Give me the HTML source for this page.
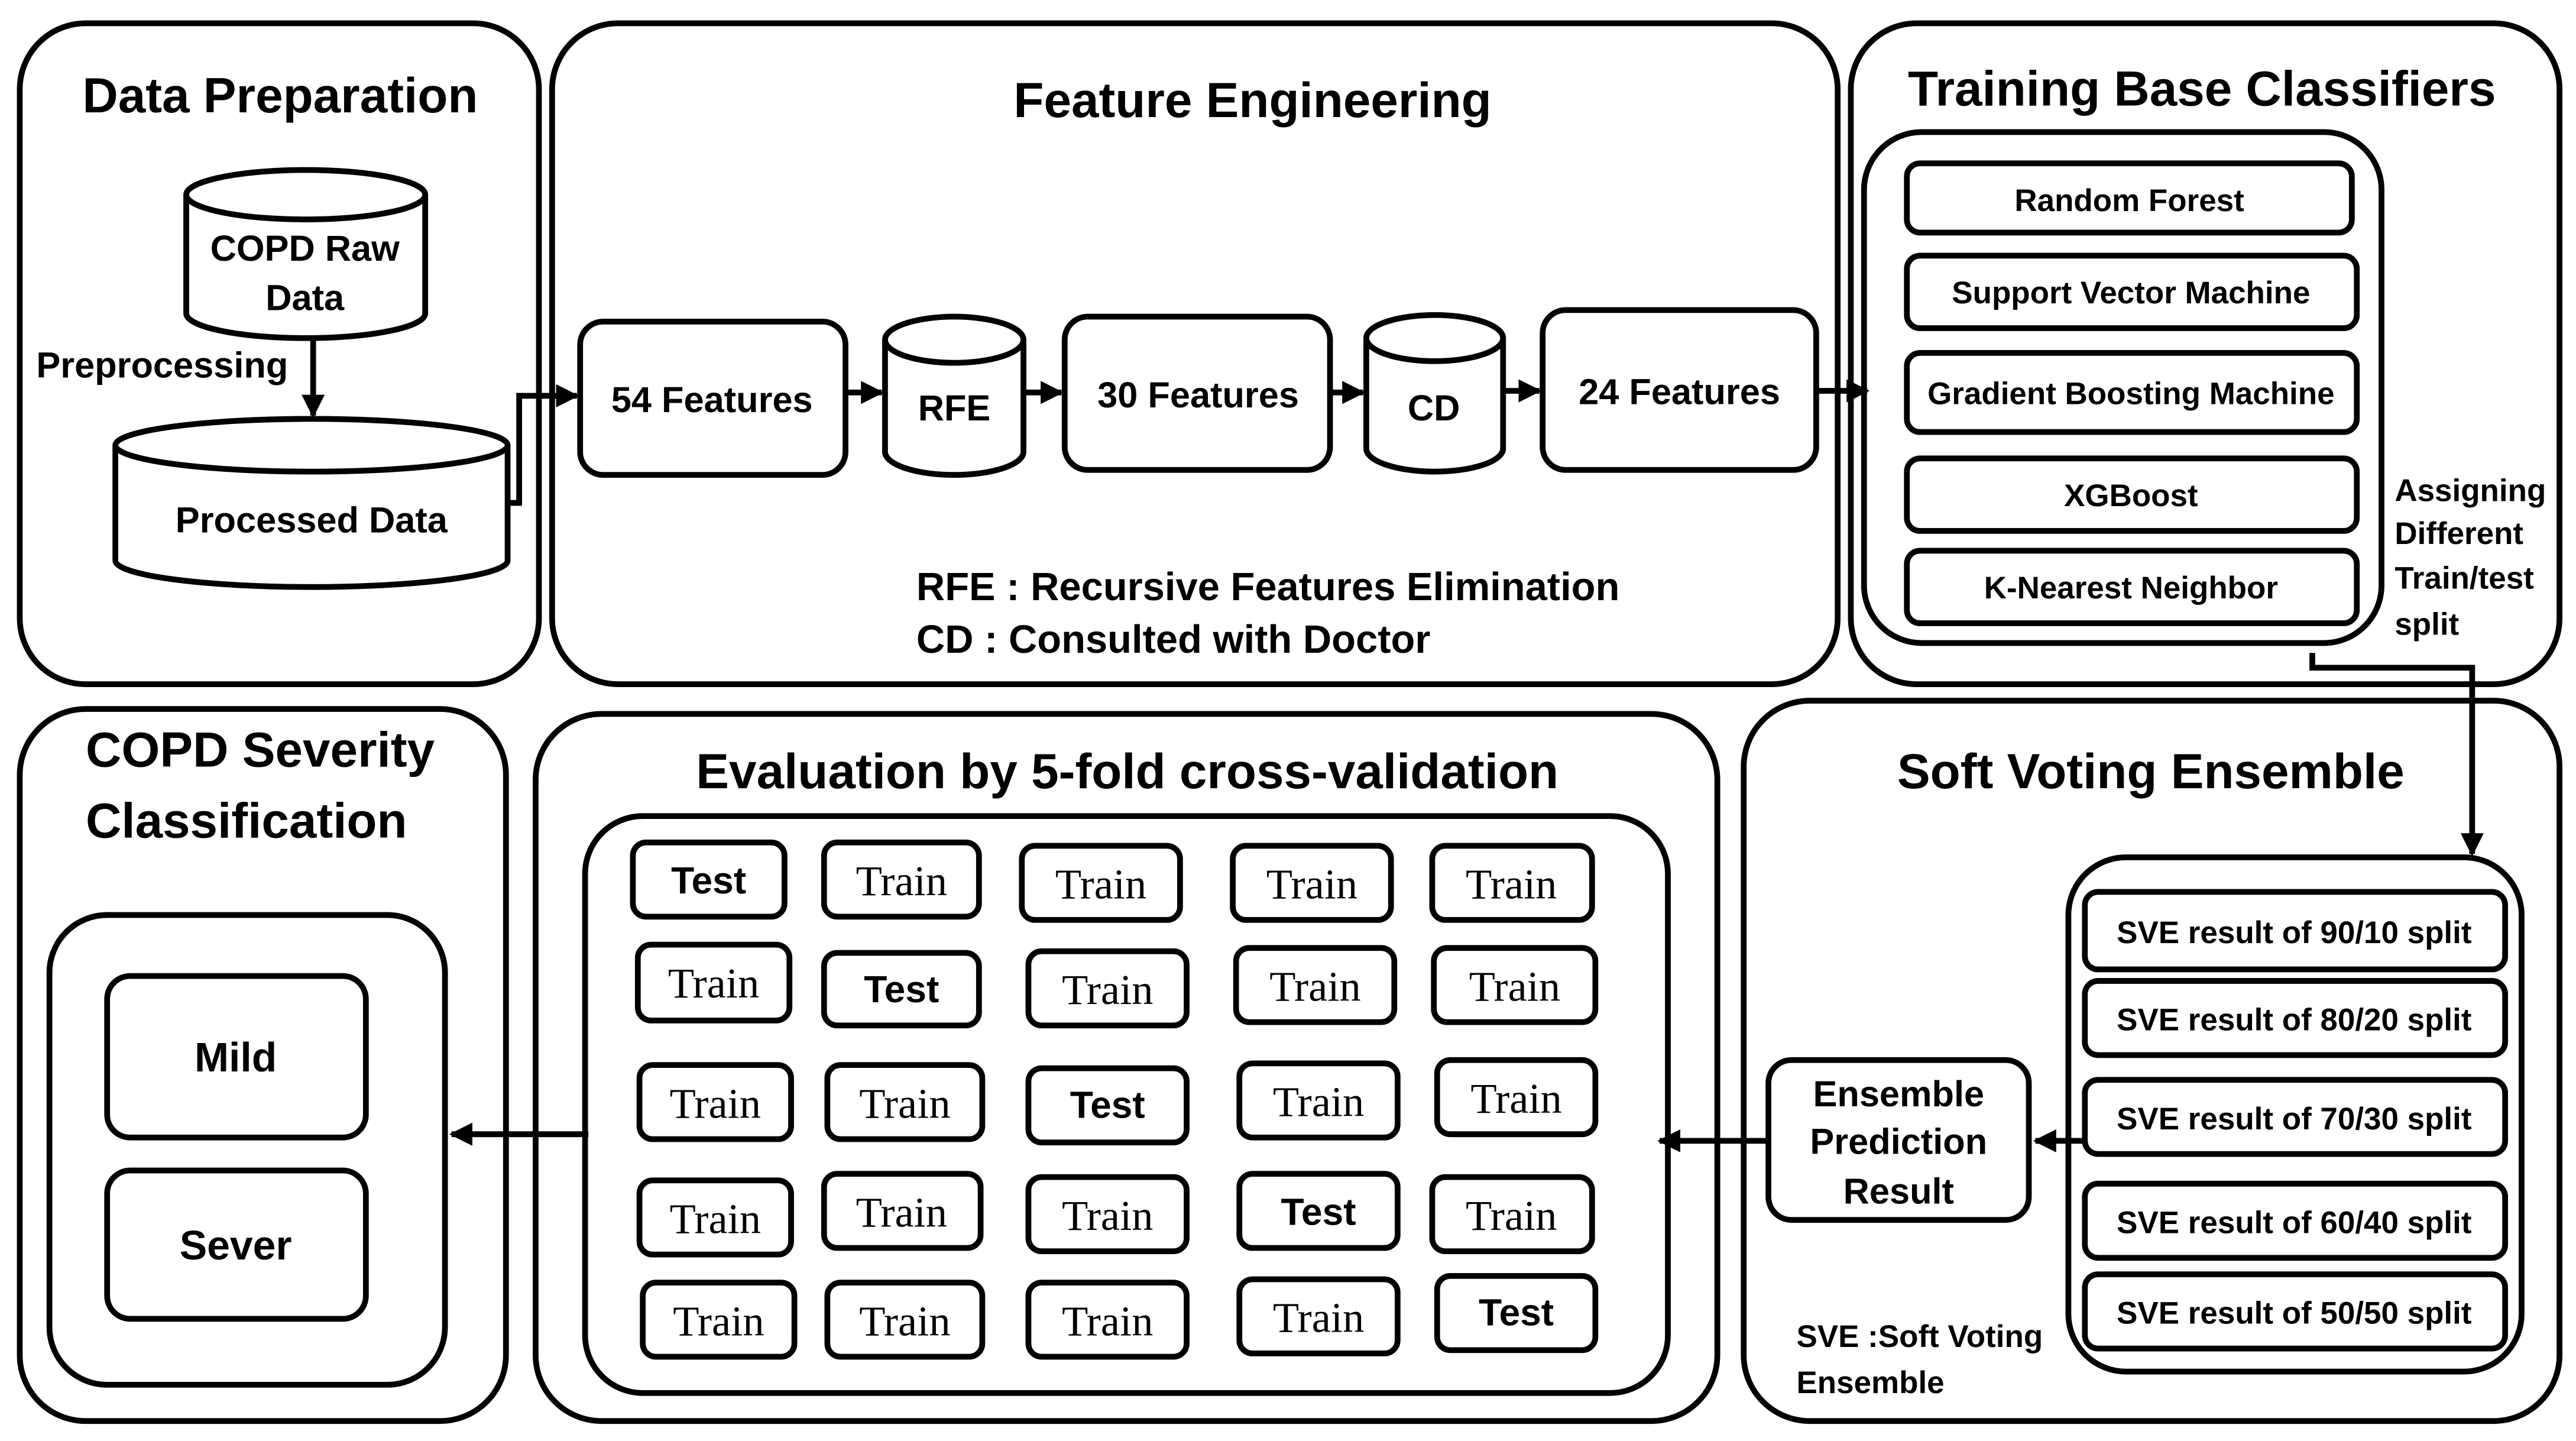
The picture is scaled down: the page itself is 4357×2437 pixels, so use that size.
<!DOCTYPE html>
<html><head><meta charset="utf-8"><style>html,body{margin:0;padding:0;background:#fff}svg{display:block}</style></head>
<body>
<svg width="4357" height="2437" viewBox="0 0 1563 874" xmlns="http://www.w3.org/2000/svg" font-family="Liberation Sans, sans-serif" font-weight="bold">
<defs><marker id="a" viewBox="0 0 10 10" refX="9" refY="5" markerWidth="4" markerHeight="4" orient="auto"><path d="M0,0L10,5L0,10z" fill="#000"/></marker></defs>
<g fill="none" stroke="#000" stroke-width="3.5">
<rect x="12" y="14" width="315" height="401" rx="40"/>
<rect x="335" y="14" width="780" height="401" rx="40"/>
<rect x="1123" y="14" width="430" height="401" rx="40"/>
<rect x="12" y="430" width="295" height="432" rx="40"/>
<rect x="325" y="433" width="717" height="429" rx="40"/>
<rect x="1058" y="425" width="495" height="437" rx="40"/>
<!-- cylinders -->
<path d="M113,118 V190 A72.5,15 0 0 0 258,190 V118"/><ellipse cx="185.5" cy="118" rx="72.5" ry="15"/>
<path d="M70,270 V340 A119,16 0 0 0 308,340 V270"/><ellipse cx="189" cy="270" rx="119" ry="16"/>
<path d="M537,206 V274 A42,14 0 0 0 621,274 V206"/><ellipse cx="579" cy="206" rx="42" ry="14"/>
<path d="M829,205 V272 A41.5,14 0 0 0 912,272 V205"/><ellipse cx="870.5" cy="205" rx="41.5" ry="14"/>
<rect x="352" y="195" width="161" height="93" rx="14"/>
<rect x="646" y="192" width="161" height="93" rx="14"/>
<rect x="936" y="188" width="166" height="97" rx="14"/>
<rect x="1131" y="80" width="314" height="310" rx="35"/>
<rect x="1157" y="99" width="270" height="42" rx="8"/>
<rect x="1157" y="155" width="273" height="44" rx="8"/>
<rect x="1157" y="214" width="273" height="48" rx="8"/>
<rect x="1157" y="278" width="273" height="44" rx="8"/>
<rect x="1157" y="334" width="273" height="44" rx="8"/>
<rect x="1255" y="520" width="275" height="312" rx="35"/>
<rect x="1265" y="541" width="255" height="47" rx="8"/>
<rect x="1265" y="595" width="255" height="45" rx="8"/>
<rect x="1265" y="655" width="255" height="45" rx="8"/>
<rect x="1265" y="718" width="255" height="45" rx="8"/>
<rect x="1265" y="773" width="255" height="45" rx="8"/>
<rect x="1073" y="643" width="158" height="97" rx="14"/>
<rect x="355" y="495" width="657" height="350" rx="35"/>
<rect x="30" y="555" width="240" height="285" rx="35"/>
<rect x="65" y="592" width="157" height="98" rx="14"/>
<rect x="65" y="710" width="157" height="90" rx="14"/>
</g>
<g fill="none" stroke="#000" stroke-width="3.5" stroke-width="3">
<rect x="384" y="511" width="92" height="45" rx="8"/><rect x="500" y="511" width="94" height="45" rx="8"/><rect x="620" y="513" width="96" height="45" rx="8"/><rect x="748" y="513" width="96" height="45" rx="8"/><rect x="869" y="513" width="97" height="45" rx="8"/>
<rect x="387" y="573" width="92" height="46" rx="8"/><rect x="500" y="578" width="94" height="44" rx="8"/><rect x="624" y="577" width="96" height="45" rx="8"/><rect x="750" y="575" width="96" height="45" rx="8"/><rect x="870" y="575" width="98" height="45" rx="8"/>
<rect x="388" y="646" width="92" height="45" rx="8"/><rect x="502" y="646" width="94" height="45" rx="8"/><rect x="624" y="648" width="96" height="45" rx="8"/><rect x="752" y="645" width="96" height="45" rx="8"/><rect x="872" y="643" width="96" height="45" rx="8"/>
<rect x="388" y="716" width="92" height="45" rx="8"/><rect x="500" y="712" width="95" height="45" rx="8"/><rect x="624" y="714" width="96" height="45" rx="8"/><rect x="752" y="712" width="96" height="45" rx="8"/><rect x="869" y="714" width="97" height="45" rx="8"/>
<rect x="390" y="778" width="92" height="45" rx="8"/><rect x="502" y="778" width="94" height="45" rx="8"/><rect x="624" y="778" width="96" height="45" rx="8"/><rect x="752" y="776" width="96" height="45" rx="8"/><rect x="872" y="774" width="96" height="45" rx="8"/>
</g>
<g fill="none" stroke="#000" stroke-width="3.5" marker-end="url(#a)">
<path d="M190,206 V252"/>
<path d="M308,305 H315 V240 H350"/>
<path d="M513,238 H535"/><path d="M621,238 H644"/><path d="M807,238 H827"/><path d="M912,237 H934"/>
<path d="M1102,237 H1133"/>
<path d="M1403,396 V405 H1500 V518"/>
<path d="M1265,692 H1235"/>
<path d="M1073,692 H1007"/>
<path d="M357,688 H274"/>
</g>
<g text-anchor="middle" font-size="30">
<text x="170" y="68">Data Preparation</text>
<text x="760" y="71">Feature Engineering</text>
<text x="1336" y="64">Training Base Classifiers</text>
<text x="684" y="478">Evaluation by 5-fold cross-validation</text>
<text x="1305" y="478">Soft Voting Ensemble</text>
</g>
<g font-size="30"><text x="52" y="465">COPD Severity</text><text x="52" y="508">Classification</text></g>
<g text-anchor="middle" font-size="22">
<text x="185" y="158">COPD Raw</text><text x="185" y="188">Data</text>
<text x="189" y="323">Processed Data</text>
<text x="432" y="250">54 Features</text>
<text x="579" y="255">RFE</text>
<text x="727" y="247">30 Features</text>
<text x="870" y="255">CD</text>
<text x="1019" y="245">24 Features</text>
<text x="1152" y="671">Ensemble</text><text x="1152" y="700">Prediction</text><text x="1152" y="730">Result</text>
<text x="143" y="650" font-size="25">Mild</text>
<text x="143" y="764" font-size="25">Sever</text>
</g>
<text x="22" y="229" font-size="22">Preprocessing</text>
<g font-size="24"><text x="556" y="364">RFE : Recursive Features Elimination</text><text x="556" y="396">CD : Consulted with Doctor</text></g>
<g text-anchor="middle" font-size="19">
<text x="1292" y="128">Random Forest</text>
<text x="1293" y="184">Support Vector Machine</text>
<text x="1293" y="245">Gradient Boosting Machine</text>
<text x="1293" y="307">XGBoost</text>
<text x="1293" y="363">K-Nearest Neighbor</text>
<text x="1392" y="572">SVE result of 90/10 split</text>
<text x="1392" y="625">SVE result of 80/20 split</text>
<text x="1392" y="685">SVE result of 70/30 split</text>
<text x="1392" y="748">SVE result of 60/40 split</text>
<text x="1392" y="803">SVE result of 50/50 split</text>
</g>
<g font-size="19"><text x="1453" y="304">Assigning</text><text x="1453" y="330">Different</text><text x="1453" y="357">Train/test</text><text x="1453" y="385">split</text>
<text x="1090" y="817">SVE :Soft Voting</text><text x="1090" y="845">Ensemble</text></g>
<g text-anchor="middle" font-size="26" font-family="Liberation Serif, serif" font-weight="normal">
<text x="547" y="543">Train</text><text x="668" y="545">Train</text><text x="796" y="545">Train</text><text x="917" y="545">Train</text>
<text x="433" y="605">Train</text><text x="672" y="609">Train</text><text x="798" y="607">Train</text><text x="919" y="607">Train</text>
<text x="434" y="678">Train</text><text x="549" y="678">Train</text><text x="800" y="677">Train</text><text x="920" y="675">Train</text>
<text x="434" y="748">Train</text><text x="547" y="744">Train</text><text x="672" y="746">Train</text><text x="917" y="746">Train</text>
<text x="436" y="810">Train</text><text x="549" y="810">Train</text><text x="672" y="810">Train</text><text x="800" y="808">Train</text>
</g>
<g text-anchor="middle" font-size="23">
<text x="430" y="542">Test</text><text x="547" y="608">Test</text><text x="672" y="678">Test</text><text x="800" y="743">Test</text><text x="920" y="804">Test</text>
</g>
</svg>
</body></html>
